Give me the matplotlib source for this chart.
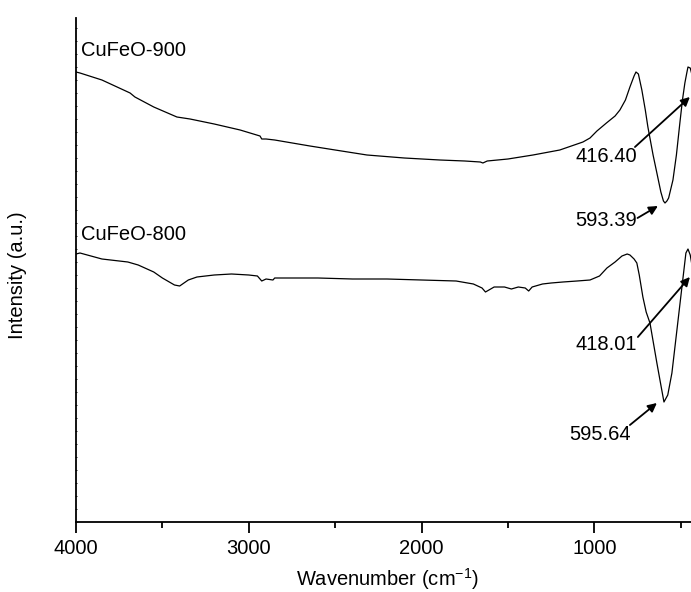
import matplotlib
matplotlib.use("Agg")
import matplotlib.pyplot as plt

plt.rcParams['font.family'] = ['Liberation Sans', 'DejaVu Sans']
plt.rcParams['mathtext.fontset'] = 'custom'
plt.rcParams['mathtext.rm'] = 'Liberation Sans'
plt.rcParams['mathtext.it'] = 'Liberation Sans:italic'

# ---- data (intensity in arbitrary units) ----
wn_900 = [4000, 3977, 3850, 3687, 3659, 3550, 3416, 3340, 3200, 3050, 2935, 2925,
          2900, 2850, 2646, 2500, 2316, 2100, 1894, 1750, 1660, 1645, 1620, 1500,
          1355, 1200, 1066, 1025, 985, 930, 880, 852, 820, 794, 770, 759, 745, 725,
          705, 690, 660, 638, 615, 600, 591, 580, 570, 545, 525, 505, 490, 476, 465,
          458, 445, 430, 415, 400]
int_900 = [450, 449, 442, 429, 425, 415, 405, 403, 398, 392, 386, 383,
           383, 382, 376, 372, 367, 364, 362, 361, 360, 359, 361, 363,
           367, 372, 380, 384, 391, 399, 406, 412, 422, 435, 446, 450, 448, 432,
           412, 395, 367, 349, 330, 321, 319, 321, 324, 342, 367, 399, 422, 439, 449,
           455, 454, 444, 427, 412]

wn_800 = [4000, 3977, 3850, 3700, 3640, 3550, 3500, 3430, 3400, 3350, 3300, 3200,
          3100, 3000, 2950, 2925, 2900, 2860, 2850, 2800, 2600, 2400, 2200, 2000,
          1800, 1700, 1650, 1630, 1610, 1580, 1520, 1480, 1440, 1400, 1380, 1360,
          1300, 1250, 1182, 1100, 1025, 970, 927, 880, 840, 810, 794, 770, 754, 740,
          719, 700, 678, 638, 615, 597, 575, 551, 522, 493, 470, 458, 445, 430, 415, 400]
int_800 = [268, 269, 263, 260, 257, 250, 244, 237, 236, 242, 245, 247,
           248, 247, 246, 241, 243, 242, 244, 244, 244, 243, 243, 242,
           241, 238, 234, 230, 232, 235, 235, 233, 235, 234, 231, 235,
           238, 239, 240, 241, 242, 246, 254, 260, 266, 268, 267, 263, 259, 247,
           225, 210, 199, 159, 137, 120, 127, 149, 192, 235, 269, 273, 267, 252, 232, 217]

sample_labels = ["CuFeO-900", "CuFeO-800"]
label_pos = [(3971, 472), (3971, 287)]

peak_texts = ["416.40", "593.39", "418.01", "595.64"]
peak_text_pos = [(930, 365), (930, 302), (930, 177), (968, 87)]
arrow_tails = [(765, 375), (750, 304), (748, 185), (794, 97)]
arrow_tips = [(447, 425), (632, 316), (447, 245), (638, 119)]

x_ticks_major = [4000, 3000, 2000, 1000]
x_ticks_minor = [3500, 2500, 1500, 500]

# ---- figure ----
fig = plt.figure(figsize=(6.91, 5.92), dpi=100)
ax = fig.add_axes([76 / 691, 70 / 592, 622 / 691, 504 / 592])

ax.plot(wn_900, int_900, color='black', lw=0.9)
ax.plot(wn_800, int_800, color='black', lw=0.9)

ax.set_xlim(4000, 400)
ax.set_ylim(0, 504)

for s, (x, y) in zip(sample_labels, label_pos):
    ax.text(x, y, s, fontsize=14.5, ha='left', va='center')

for t, tp, tail, tip in zip(peak_texts, peak_text_pos, arrow_tails, arrow_tips):
    ax.text(tp[0], tp[1], t, fontsize=14.5, ha='center', va='center')
    ax.annotate('', xy=tip, xytext=tail,
                arrowprops=dict(arrowstyle='-|>', color='black', lw=1.3,
                                mutation_scale=13, shrinkA=0, shrinkB=0))

ax.spines['top'].set_visible(False)
ax.spines['right'].set_visible(False)
ax.spines['left'].set_linewidth(1.3)
ax.spines['bottom'].set_linewidth(1.3)

ax.set_xticks(x_ticks_major)
ax.set_xticks(x_ticks_minor, minor=True)
ax.tick_params(axis='x', which='major', direction='out', length=8, width=1.3,
               labelsize=14.5, pad=4)
ax.tick_params(axis='x', which='minor', direction='out', length=4, width=1.3)
ax.set_yticks(list(range(0, 504, 13)))
ax.tick_params(axis='y', which='major', direction='inout', length=2, width=0.6,
               labelleft=False)

ax.set_xlabel('Wavenumber (cm$^{-1}$)', fontsize=14.5, labelpad=6)
fig.text(18 / 691, 1 - 275 / 592, 'Intensity (a.u.)', rotation=90,
         fontsize=14.5, ha='center', va='center')

fig.savefig('out.png', dpi=100)
